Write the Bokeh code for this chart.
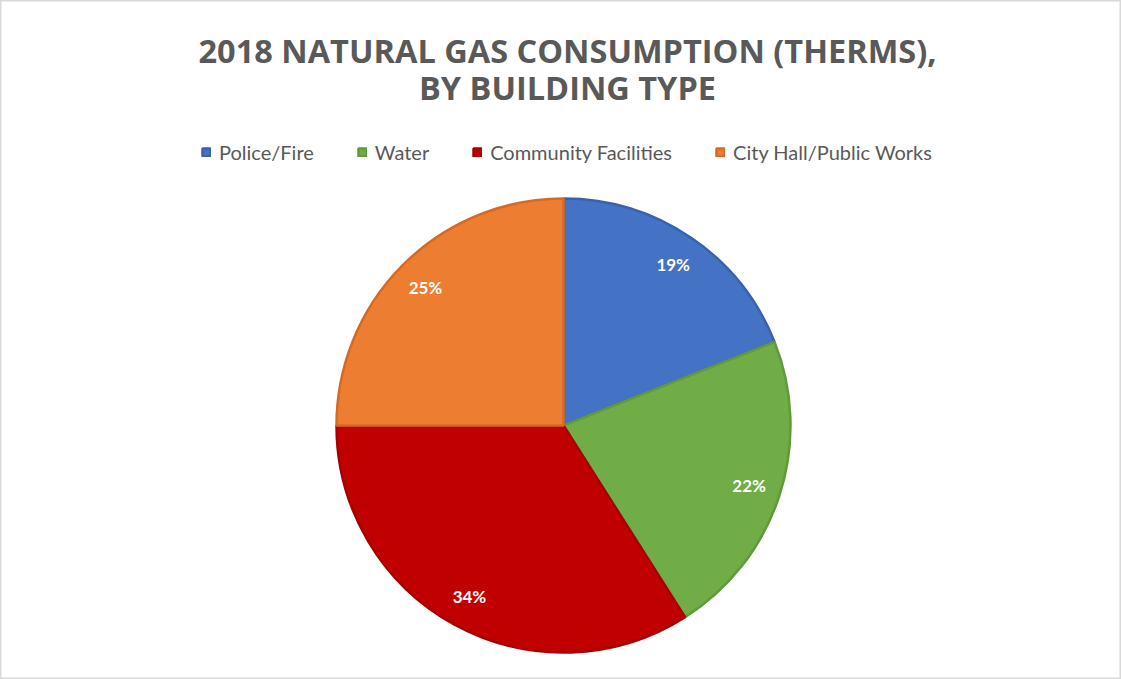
import math
from bokeh.plotting import figure
from bokeh.models import Label, Legend, LegendItem, ColumnDataSource
from bokeh.core.properties import value
from bokeh.embed import file_html
from bokeh.resources import INLINE

categories = ["Police/Fire", "Water", "Community Facilities", "City Hall/Public Works"]
shares = [19, 22, 34, 25]
labels = ["19%", "22%", "34%", "25%"]
colors = ["#4472C4", "#70AD47", "#C00000", "#ED7D31"]
edge_colors = ["#3A62AA", "#5F9A3B", "#A80000", "#D76A22"]
title_lines = ["2018 NATURAL GAS CONSUMPTION (THERMS),", "BY BUILDING TYPE"]

W, H = 1121, 679
cx, cy, R = 563, H - 425, 227

total = float(sum(shares))
starts, ends, lx, ly = [], [], [], []
cum = 0.0
for s in shares:
    a0 = math.pi / 2 - 2 * math.pi * (cum + s) / total
    a1 = math.pi / 2 - 2 * math.pi * cum / total
    starts.append(a0)
    ends.append(a1)
    mid = (a0 + a1) / 2
    lx.append(cx + 0.86 * R * math.cos(mid))
    ly.append(cy + 0.86 * R * math.sin(mid))
    cum += s

src = ColumnDataSource(dict(cat=categories, start=starts, end=ends, color=colors,
                            edge=edge_colors, lx=lx, ly=ly, lab=labels))

p = figure(width=W, height=H, x_range=(0, W), y_range=(0, H),
           output_backend="svg", toolbar_location=None, min_border=0)
p.axis.visible = False
p.grid.visible = False
p.outline_line_color = "#D9D9D9"
p.outline_line_width = 2
p.background_fill_color = "white"
p.border_fill_color = "white"

items = []
for i in range(len(categories)):
    r = p.wedge(x=cx, y=cy, radius=R, start_angle=starts[i], end_angle=ends[i],
                fill_color=colors[i], line_color=edge_colors[i], line_width=2.5,
                radius_units="screen")
    items.append(LegendItem(label=categories[i], renderers=[r]))

p.text(x="lx", y="ly", text="lab", source=src, text_color="white",
       text_font_style="bold", text_font_size="17px", text_align="center",
       text_baseline="middle", text_font=value("Lato"))

legend = Legend(items=items, orientation="horizontal", location=(201, H - 164),
                label_text_font="Lato", label_text_font_size="20px",
                label_text_color="#595959", glyph_width=10, glyph_height=10,
                spacing=43, padding=0, margin=0, label_standoff=8,
                border_line_color=None, background_fill_alpha=0)
p.add_layout(legend)

for t, y in zip(title_lines, [H - 50, H - 87]):
    p.add_layout(Label(x=567, y=y, text=t, text_align="center", text_baseline="middle",
                       text_font="Open Sans", text_font_style="bold",
                       text_font_size="32.5px", text_color="#595959"))

open("out.html", "w").write(file_html(p, INLINE))
